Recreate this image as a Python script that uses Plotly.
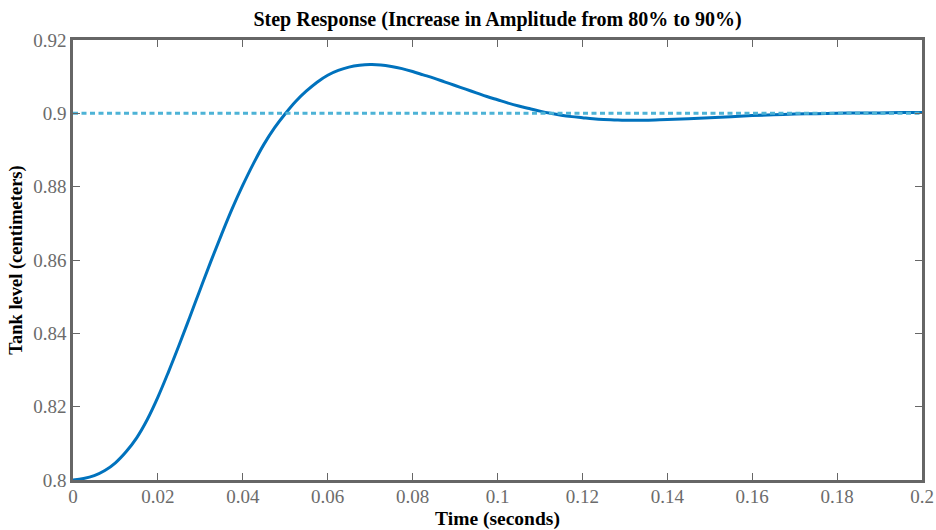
import plotly.graph_objects as go

# Data
time_s = [0, 0.0025, 0.005, 0.0075, 0.01, 0.0125, 0.015, 0.0175, 0.02, 0.0225, 0.025,
          0.0275, 0.03, 0.0325, 0.035, 0.0375, 0.04, 0.0425, 0.045, 0.0475, 0.05,
          0.0525, 0.055, 0.0575, 0.06, 0.0625, 0.065, 0.0675, 0.07, 0.0725, 0.075,
          0.0775, 0.08, 0.0825, 0.085, 0.0875, 0.09, 0.0925, 0.095, 0.0975, 0.1,
          0.1025, 0.105, 0.1075, 0.11, 0.1125, 0.115, 0.1175, 0.12, 0.1225, 0.125,
          0.1275, 0.13, 0.1325, 0.135, 0.14, 0.145, 0.15, 0.155, 0.16, 0.165, 0.17,
          0.175, 0.18, 0.185, 0.19, 0.195, 0.2]
level_cm = [0.8000, 0.8004, 0.8012, 0.8026, 0.8047, 0.8077, 0.8115, 0.8165, 0.8226, 0.8295, 0.8368,
            0.8444, 0.8521, 0.8597, 0.8670, 0.8740, 0.8804, 0.8863, 0.8916, 0.8961, 0.8999,
            0.9033, 0.9061, 0.9085, 0.9104, 0.9117, 0.9126, 0.9131, 0.9133, 0.9132, 0.9128,
            0.9122, 0.9114, 0.9105, 0.9096, 0.9086, 0.9076, 0.9066, 0.9056, 0.9046, 0.9037,
            0.9028, 0.9020, 0.9013, 0.9006, 0.9000, 0.8995, 0.8991, 0.8988, 0.8985, 0.8983,
            0.8982, 0.8981, 0.8981, 0.8981, 0.8983, 0.8985, 0.8988, 0.8991, 0.8994, 0.8996, 0.8998,
            0.8999, 0.9000, 0.9001, 0.9001, 0.9002, 0.9002]
ref_time = [0, 0.2]
ref_level = [0.9, 0.9]

x_ticks = [0, 0.02, 0.04, 0.06, 0.08, 0.1, 0.12, 0.14, 0.16, 0.18, 0.2]
x_ticklabels = ["0", "0.02", "0.04", "0.06", "0.08", "0.1", "0.12", "0.14", "0.16", "0.18", "0.2"]
y_ticks = [0.8, 0.82, 0.84, 0.86, 0.88, 0.9, 0.92]
y_ticklabels = ["0.8", "0.82", "0.84", "0.86", "0.88", "0.9", "0.92"]

SERIF = "Liberation Serif, Times New Roman, serif"
AXIS_COLOR = "#666666"

fig = go.Figure()
fig.add_trace(go.Scatter(x=time_s, y=level_cm, mode="lines",
                         line=dict(color="#0072BD", width=3, shape="spline", smoothing=1.0),
                         showlegend=False))
fig.add_trace(go.Scatter(x=ref_time, y=ref_level, mode="lines",
                         line=dict(color="#4DB3D6", width=3, dash="5px,3.5px"),
                         showlegend=False, hoverinfo="skip"))

axis_common = dict(showgrid=False, zeroline=False, showline=True, linecolor=AXIS_COLOR,
                   linewidth=2.5, mirror="ticks", ticks="inside", ticklen=7, tickwidth=1,
                   tickcolor=AXIS_COLOR, automargin=False,
                   tickfont=dict(family=SERIF, size=19, color="#6b6b6b"))

fig.update_layout(
    width=936, height=530,
    margin=dict(l=73, r=14, t=40, b=50),
    paper_bgcolor="white", plot_bgcolor="white",
    title=dict(text="<b>Step Response (Increase in Amplitude from 80% to 90%)</b>",
               x=(73 + 922) / 2 / 936, xanchor="center", y=1 - 19 / 530, yanchor="middle",
               font=dict(family=SERIF, size=20, color="black")),
    xaxis=dict(range=[0, 0.2], tickvals=x_ticks, ticktext=x_ticklabels,
               ticklabelstandoff=-3,
               title=dict(text="<b>Time (seconds)</b>", standoff=6,
                          font=dict(family=SERIF, size=19.5, color="black")),
               **axis_common),
    yaxis=dict(range=[0.8, 0.92], tickvals=y_ticks, ticktext=y_ticklabels,
               title=dict(text="<b>Tank level (centimeters)</b>", standoff=6,
                          font=dict(family=SERIF, size=18.5, color="black")),
               **axis_common),
)

fig.write_html("out.html")
